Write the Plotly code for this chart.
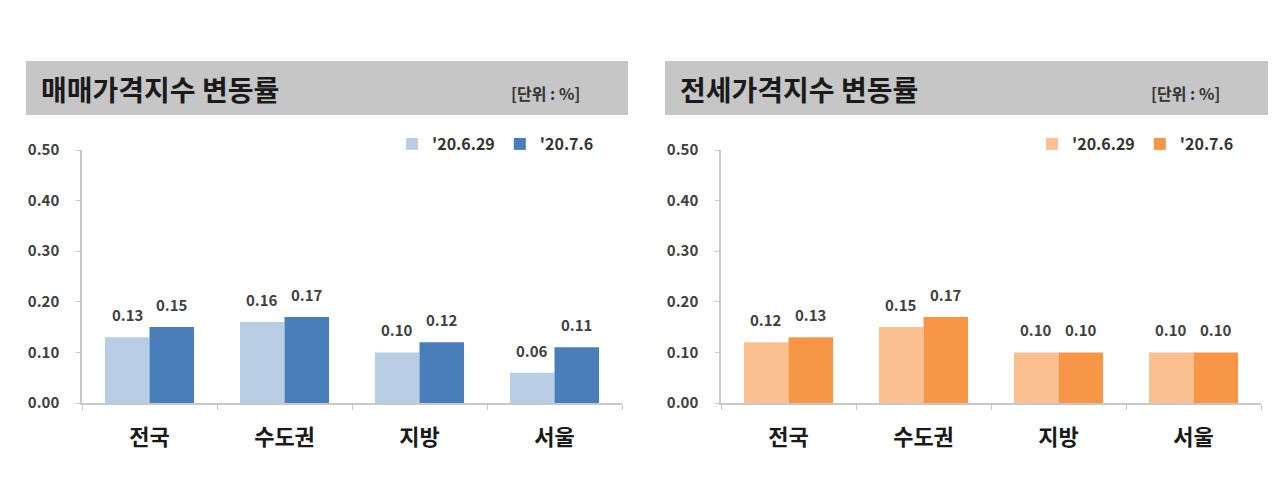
import plotly.graph_objects as go

categories = ["전국", "수도권", "지방", "서울"]
sale_prev = [0.13, 0.16, 0.10, 0.06]
sale_curr = [0.15, 0.17, 0.12, 0.11]
jeonse_prev = [0.12, 0.15, 0.10, 0.10]
jeonse_curr = [0.13, 0.17, 0.10, 0.10]
series_names = ["'20.6.29", "'20.7.6"]
titles = ["매매가격지수 변동률", "전세가격지수 변동률"]
unit_label = "[단위 : %]"
y_ticks = [0.0, 0.1, 0.2, 0.3, 0.4, 0.5]

W, H = 1280, 501
OFF = 8  # page body margin
FONT = "Noto Sans CJK KR"
BARGAP = 0.34

def px(x):
    return (x - OFF) / W

def py(y):
    return 1 - (y - OFF) / H

fig = go.Figure()

colors_left = ["#b9cde5", "#4a7ebb"]
colors_right = ["#fac090", "#f79646"]

panels = [
    ("x", "y", "legend", [sale_prev, sale_curr], colors_left, (82, 622)),
    ("x2", "y2", "legend2", [jeonse_prev, jeonse_curr], colors_right, (721, 1261)),
]

for xa, ya, lg, series, cols, (x0, x1) in panels:
    cat_px = (x1 - x0) / len(categories)
    bar_w = cat_px * (1 - BARGAP) / len(series)
    for i, (vals, col) in enumerate(zip(series, cols)):
        fig.add_trace(go.Bar(
            x=categories, y=vals, name=series_names[i],
            marker=dict(color=col, line=dict(width=0)),
            xaxis=xa, yaxis=ya, legend=lg,
        ))
        shift = (i - (len(series) - 1) / 2) * bar_w
        for c, v in zip(categories, vals):
            fig.add_annotation(
                x=c, y=v, xref=xa, yref=ya, text=f"{v:.2f}", showarrow=False,
                xanchor="center", yanchor="bottom", xshift=shift, yshift=10,
                font=dict(family=FONT, size=15, color="#404040", weight="bold"),
            )

ydom = [py(403), py(150)]
xaxis_common = dict(
    showline=True, linecolor="#c8c8c8", linewidth=1.5,
    ticks="outside", tickson="boundaries", ticklen=5, tickcolor="#c8c8c8",
    tickfont=dict(family=FONT, size=22, color="#1a1a1a", weight="bold"), ticklabelstandoff=14,
    showgrid=False, fixedrange=True,
)
yaxis_common = dict(
    range=[0, 0.5], tickvals=y_ticks, tickformat=".2f",
    showline=True, linecolor="#c8c8c8", linewidth=1.5,
    ticks="outside", ticklen=4, tickcolor="#c8c8c8",
    tickfont=dict(family=FONT, size=15, color="#404040", weight="bold"), ticklabelstandoff=14,
    showgrid=False, zeroline=False, fixedrange=True,
)
legend_common = dict(
    yanchor="middle", orientation="h",
    font=dict(family=FONT, size=16, color="#333333", weight="bold"),
    bgcolor="rgba(0,0,0,0)", itemwidth=30, tracegroupgap=0,
)

fig.update_layout(
    width=W, height=H,
    margin=dict(l=0, r=0, t=0, b=0, autoexpand=False),
    paper_bgcolor="white", plot_bgcolor="white",
    barmode="group", bargap=BARGAP, bargroupgap=0,
    showlegend=True,
    xaxis=dict(domain=[px(82), px(622)], anchor="y", **xaxis_common),
    yaxis=dict(domain=ydom, anchor="x", **yaxis_common),
    xaxis2=dict(domain=[px(721), px(1261)], anchor="y2", **xaxis_common),
    yaxis2=dict(domain=ydom, anchor="x2", **yaxis_common),
    legend=dict(x=px(392), y=py(144), xanchor="left", **legend_common),
    legend2=dict(x=px(1032), y=py(144), xanchor="left", **legend_common),
)

# header boxes
for (x0, x1), title, ux in [((26, 628), titles[0], 582), ((665, 1268), titles[1], 1222)]:
    fig.add_shape(type="rect", xref="paper", yref="paper",
                  x0=px(x0), x1=px(x1), y0=py(115), y1=py(61),
                  fillcolor="#c6c6c6", line=dict(width=0), layer="below")
    fig.add_annotation(text=title, xref="paper", yref="paper",
                       x=px(x0 + 13), y=py(89), xanchor="left", yanchor="middle",
                       showarrow=False,
                       font=dict(family=FONT, size=28, color="#1a1a1a", weight="bold"))
    fig.add_annotation(text=unit_label, xref="paper", yref="paper",
                       x=px(ux), y=py(93), xanchor="right", yanchor="middle",
                       showarrow=False,
                       font=dict(family=FONT, size=16, color="#333333", weight="bold"))

fig.write_html("out.html")
